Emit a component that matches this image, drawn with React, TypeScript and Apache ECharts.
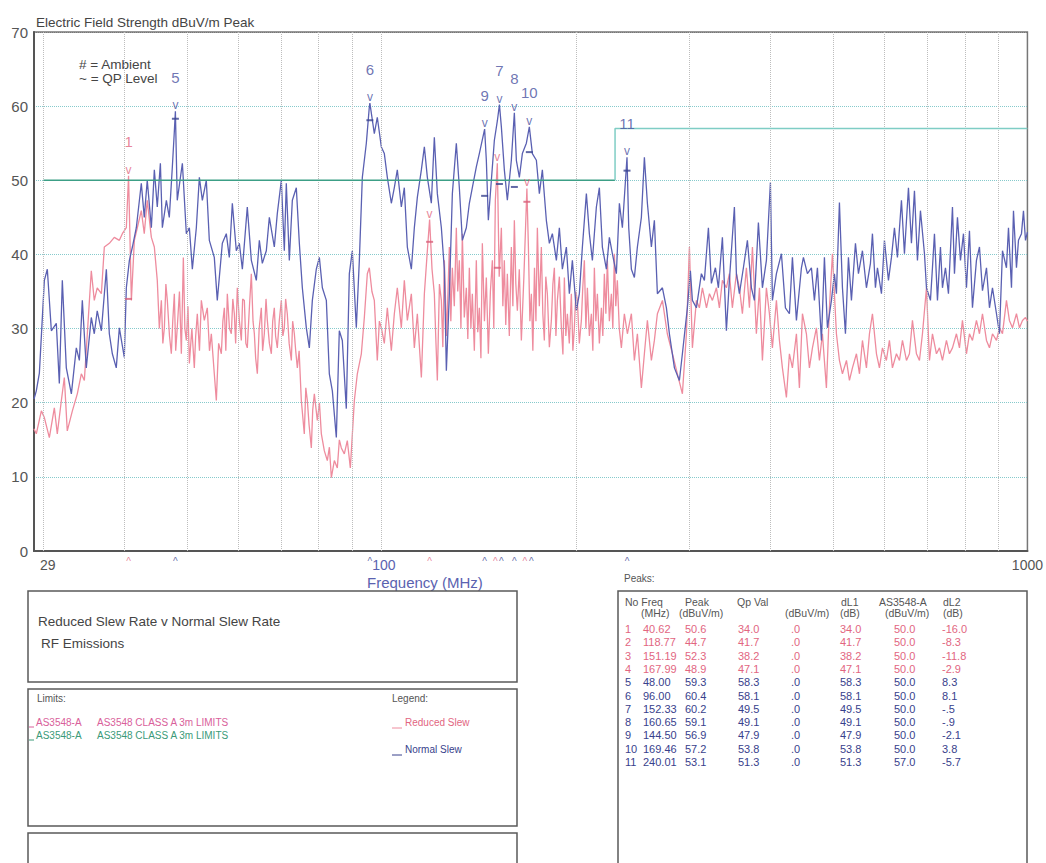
import React, { useEffect, useRef } from "react";
import * as echarts from "echarts";

const FONT = "Liberation Sans, Arial, sans-serif";
const PINK = "#ee8c9e";
const BLUE = "#5a60b2";
const PINK_TXT = "#e2667f";
const BLUE_TXT = "#38418c";

// Reduced slew rate trace [MHz, dBuV/m]
const reducedSlew: [number, number][] = [
  [29.0,16.5],[29.24,15.8],[29.77,18.9],[30.09,18],[30.63,15.3],[31.18,19.3],[31.51,15.8],[31.97,20.3],[32.31,23.4],[32.65,16.2],
  [33.25,18.9],[33.84,21.2],[34.33,23.9],[34.7,23],[35.07,29.3],[35.57,37.8],[35.95,33.8],[36.33,35.5],[36.87,34.7],[37.26,41],
  [37.93,41.5],[38.61,42.3],[39.31,41.9],[39.73,42.8],[40.3,43.6],[40.62,50.6],[41.03,33.8],[41.47,41.9],[41.91,43.6],[42.51,45.9],
  [42.96,42.8],[43.42,47.3],[44.06,42.3],[44.53,41],[45.0,36.5],[45.33,30],[45.66,33.8],[45.9,28],[46.15,30.1],[46.4,36],
  [46.64,33.8],[47.0,29],[47.31,26.6],[47.55,31],[47.82,34.7],[48.05,27],[48.32,30.1],[48.7,35],[49.03,26.6],[49.38,39.6],
  [49.65,30],[49.91,28.4],[50.2,33],[50.45,25.3],[50.9,30],[51.35,24.7],[51.6,29],[51.9,32],[52.3,27],[52.65,33.8],
  [53.21,31.1],[53.78,32.8],[54.2,27],[54.56,29.3],[55.14,23.9],[55.54,20.3],[56.0,28],[56.54,26.6],[56.85,31],[57.15,32.8],
  [57.45,27],[57.76,34.7],[58.2,30],[58.59,29.3],[58.9,34],[59.22,32],[59.5,28],[59.85,35.5],[60.3,31],[60.72,28.4],
  [61.0,34],[61.37,33.8],[61.7,28],[62.02,27.4],[62.5,33],[62.92,37.4],[63.3,31],[63.6,29.3],[63.9,26],[64.28,23.9],
  [64.7,30],[65.2,32.8],[65.5,27],[65.9,29.3],[66.3,34],[66.61,31.1],[67.1,28],[67.57,26.6],[67.9,31],[68.29,32.8],
  [68.6,29],[69.02,27.4],[69.5,31],[70.02,33.8],[70.4,29],[70.77,30.1],[71.1,34],[71.52,32],[72.0,28],[72.56,25.7],
  [72.9,31],[73.34,29.3],[73.7,27],[74.13,24.7],[74.6,27],[75.19,20.3],[75.99,15.8],[76.4,22],[76.82,20.3],[77.3,17],
  [77.92,13.9],[78.3,19],[78.76,21.2],[79.6,17.6],[80.2,20],[80.75,15.8],[81.62,13.5],[82.49,12.2],[83.1,14],[83.68,9.9],
  [84.58,12.2],[85.48,11.2],[86.1,15],[86.71,13.9],[87.64,13.1],[88.58,14.9],[89.54,11.2],[90.83,20.3],[91.8,23.9],[93.12,26.6],
  [94.12,31.5],[95.13,37.4],[95.81,38.2],[96.7,35],[97.53,33.8],[98.57,25.7],[99.3,31],[100,30.1],[101.07,28],[102.16,32.8],
  [103.63,27],[104.74,32],[105.86,35.5],[107.39,30.1],[108.54,36.5],[109.71,31.1],[111.29,34.7],[112.48,27.4],[113.69,32],[115.33,23.4],
  [116.57,34.7],[117.82,40.5],[118.77,44.7],[119.8,38],[120.79,34.7],[121.5,28],[122.09,23],[123.0,36],[123.85,33.8],[124.5,27.5],
  [125.18,39.2],[126.2,29],[127.43,41],[128.1,31],[128.8,38.2],[129.7,33],[130.64,43.6],[131.3,35],[132.05,39.2],[132.8,30],
  [133.47,42.8],[134.4,31.5],[135.38,35.5],[136.1,28.6],[136.84,38.2],[137.6,30],[138.31,34.7],[139.3,27],[140.29,39.2],[141.0,29.5],
  [141.8,32.8],[142.6,26],[143.33,41.5],[144.4,31],[145.38,36.9],[146.43,26.6],[147.5,35],[148.54,39.2],[149.3,30],[150.13,47.3],
  [151.19,52.3],[152.2,37],[153.38,43.6],[154.2,33],[155.02,39.2],[155.8,30.5],[156.69,37.4],[157.8,29],[158.94,41],[159.8,33],
  [160.65,44.6],[161.5,36],[162.38,32.4],[163.5,38],[164.71,28.4],[166.2,37],[167.99,48.9],[168.9,41],[169.8,31],[170.69,34.7],
  [171.6,27],[172.6,38.2],[173.5,31],[174.38,43.6],[175.6,33],[176.88,41],[177.8,32],[178.77,28.4],[179.7,37],[180.7,34.7],
  [182.0,27.5],[183.3,31.1],[184.3,36],[185.27,38.2],[186.3,29],[187.27,33.8],[188.6,37],[189.95,30.1],[191.0,26.5],[192.0,36.9],
  [193.0,29],[194.06,32],[195.4,28],[196.84,34.7],[197.9,27],[198.96,30.1],[200.0,35],[201.1,33.8],[202.5,28],[203.99,31.1],
  [205.0,35.5],[206.18,39.2],[207.3,30],[208.4,35.5],[209.9,29],[211.39,32],[212.5,27],[213.66,38.2],[214.8,31],[215.97,34.7],
  [217.5,28],[219.06,32.8],[220.2,29],[221.4,37.4],[222.6,32],[223.8,39.2],[225.4,31],[227.01,34.7],[228.2,30],[229.45,40.1],
  [230.6,33],[231.9,36.5],[233.5,30],[235.25,27.4],[237.77,32],[240.34,29.3],[243.79,32],[246.41,25.7],[249.06,29.3],[252.63,22],
  [255.35,26.6],[258.1,31.1],[261.8,25.7],[264.61,28.4],[267.46,32],[272.3,33.8],[277.1,29.3],[282.2,26.6],[287.2,23.9],[292.4,21.2],
  [296.6,29.3],[299.8,41],[303,27.4],[307.35,33.8],[310.65,32.8],[314,35.5],[318.6,32.8],[322,34.7],[325.4,33.8],[330.1,35.5],
  [333.6,32.8],[337.2,36.5],[342.04,35.5],[345.71,37.4],[349.4,32.8],[354.44,37.4],[358.26,35.5],[362.1,32],[367.3,38.2],[371.3,32.8],
  [375.3,41],[380.6,29.3],[384.8,35.5],[388.88,25.7],[394.46,35.5],[398.7,32],[402.99,27.4],[408.79,33.8],[413.2,28.4],[417.6,24.7],
  [423.6,20.7],[428.16,26.6],[432.77,24.7],[438.99,29.3],[443.7,22],[448.5,32],[454.9,29.3],[459.8,24.7],[464.8,27.4],[471.4,30.1],
  [476.5,25.7],[481.6,29.3],[488.5,22],[493.8,32.8],[499.1,40.1],[506.26,29.3],[511.7,25.7],[517.23,23.9],[524.7,25.7],[530.3,23],
  [536,24.7],[543.7,26.6],[549.6,23.9],[555.44,28.4],[563.41,24.7],[569.5,29.3],[575.6,32],[583.9,26.6],[590.1,24.7],[596.5,27.4],
  [604.9,25.7],[611.5,28.4],[618.1,24.7],[627,26.6],[633.8,25.7],[640.6,28.4],[649.8,25.7],[656.7,26.6],[663.8,31.1],[673.3,26.6],
  [680.6,25.7],[687.9,29.3],[697.8,35.5],[705.3,25.7],[712.87,29.3],[723.1,26.6],[730.9,27.4],[738.74,25.7],[749.3,28.4],[757.4,26.6],
  [765.56,27.4],[776.5,29.3],[784.9,27.4],[793.3,31.1],[804.71,26.6],[813.35,29.3],[822.1,28.4],[833.85,31.1],[842.89,29.3],[851.96,32],
  [864.22,28.4],[873.49,27.4],[882.88,29.3],[895.56,28.4],[905.16,30.1],[914.93,29.3],[928,33.8],[937.8,31.1],[948.1,30.1],[961.7,32],
  [972.1,30.1],[982.5,31.1],[993.1,31.5],[1000,31]
];

// Normal slew rate trace [MHz, dBuV/m]
const normalSlew: [number, number][] = [
  [29.0,20.5],[29.24,21.6],[29.56,24],[30.09,36.5],[30.41,38],[30.85,29.7],[31.4,30.7],[31.74,22.6],[32.08,36.5],[32.54,24.7],
  [33.13,21.2],[33.72,27.4],[34.09,25.7],[34.45,33.8],[34.94,24.7],[35.57,31.5],[35.95,29.3],[36.33,32.4],[36.87,29.7],[37.53,38],
  [37.93,29.3],[38.34,26.6],[38.88,24.7],[39.31,30.1],[40.01,26.1],[40.3,35.5],[40.74,39.2],[41.18,41],[41.76,43.6],[42.51,49.6],
  [42.96,45],[43.42,50],[44.06,43.6],[44.53,51.4],[45.0,46.4],[45.5,52.3],[45.82,43.6],[46.48,47.3],[46.97,45],[47.48,51.8],
  [47.8,56.3],[48.0,59.3],[48.32,47.3],[49.21,52.3],[49.91,42.8],[50.45,43.6],[50.99,38],[51.72,43.6],[52.28,50.4],[52.84,47.3],
  [53.59,50],[54.17,41.9],[55.14,39.6],[55.73,33.8],[56.74,41.5],[57.55,42.8],[58.17,39.6],[58.8,46.9],[59.64,40.5],[60.29,41.5],
  [60.94,38],[62.02,46.4],[62.92,39.2],[64.05,36.5],[64.74,41.9],[65.43,38.8],[66.37,40.5],[67.09,45],[68.29,41],[69.02,45.5],
  [70.02,50],[70.77,40.5],[71.27,49.6],[72.04,39.2],[72.82,47.3],[73.86,49],[74.66,41.5],[75.46,35.5],[76.54,30.1],[77.37,27.4],
  [78.2,33.8],[79.31,38],[80.18,39.6],[81.04,35.5],[82.2,33.8],[83.08,23.9],[83.98,21.6],[85.18,15.3],[86.09,29.7],[87.02,28.4],
  [88.26,19.2],[89.22,37.4],[90.18,40.5],[91.47,30.1],[92.46,39.2],[93.45,50.4],[94.79,55],[95.81,59.9],[96.0,60.4],[97.53,56.3],
  [98.57,58.5],[100,54.5],[101.07,53.6],[102.16,50.4],[103.63,46.9],[104.74,49],[105.86,51.4],[107.39,46.4],[108.54,49],[109.71,41],
  [111.29,38],[112.48,43.6],[113.69,47.7],[115.33,51.4],[116.57,54.5],[117.82,50.4],[119.51,46.9],[120.79,55.8],[122.09,48.2],[123.85,43.6],
  [125.18,38],[126.08,24.3],[127.43,34.7],[128.8,48.2],[130.64,55],[132.05,49],[133.47,41.9],[135.38,43.6],[136.84,46.9],[138.31,49],
  [140.29,51.8],[141.8,53.6],[144.5,56.9],[145.38,52.7],[146.43,44.6],[148.01,50],[149.6,55.4],[151.2,58],[152.33,60.2],[153.38,57.2],
  [155.02,51.4],[156.69,47.3],[158.94,52.7],[160.65,59.1],[161.8,52.7],[163.54,50.4],[165.3,53.6],[167.67,55],[169.46,57.2],[171.3,53.6],
  [173.76,52.7],[175.62,48.2],[177.51,51.4],[180.05,44.6],[182.0,41.5],[183.96,42.8],[186.6,39.2],[188.6,43.6],[190.63,38],[193.37,41],
  [195.44,34.7],[197.55,39.2],[200.38,32.4],[202.54,34.7],[204.72,41],[207.66,48.2],[209.89,42.8],[212.15,39.2],[215.19,46.4],[217.5,49],
  [219.84,41],[223.0,38],[225.39,42.3],[227.82,40.1],[231.09,37.4],[233.58,46.9],[236.09,43.6],[240.01,53.1],[241.5,43.6],[243.79,38],
  [246.41,36.9],[249.06,41],[252.63,45],[255.35,53.1],[258.1,46.9],[261.8,41],[264.61,44.6],[267.46,34.7],[272.3,35.5],[276.2,32.8],
  [279.15,29.3],[284.2,24.7],[289.27,23],[292.39,26.6],[297.64,32.8],[300.85,37.8],[303,33.8],[307.35,32.8],[312.88,37.4],[316.24,36.5],
  [320.79,43.6],[324.24,36.1],[328.9,38.2],[332.43,35.5],[337.2,42.3],[342.04,29.7],[345.71,36.5],[351.93,46.4],[354.44,37.4],[358.26,34.7],
  [363.41,38.2],[368.62,41.9],[373.93,35.5],[377.94,33.8],[383.36,44.3],[388.88,35.5],[394.46,39.2],[400.13,49.7],[402.99,33.8],[408.79,37.4],
  [416.13,40.1],[422.1,32.8],[428.16,32],[432.77,39.6],[438.99,31.1],[446.88,38.2],[450.08,39.6],[456.54,37.4],[463.1,38.2],[468.07,33.8],
  [473.1,38.2],[479.91,28.4],[485.06,39.6],[490.27,30.1],[497.33,33.8],[502.66,37.4],[506.26,34.7],[511.7,47],[517.23,35.5],[522.8,29.3],
  [528.4,39.6],[534.08,33.8],[541.78,41.5],[547.6,37.4],[555.44,40.5],[563.41,35.5],[571.51,38.8],[575.6,42.8],[581.78,35.5],[585.95,38.2],
  [594.36,34.7],[600.75,41.9],[609.39,36.5],[615.93,39.6],[622.55,43.6],[629.23,39.6],[638.29,47.3],[645.13,40.1],[654.42,49],[661.45,41.5],
  [668.57,48.6],[675.74,39.2],[683,45.9],[692.85,40.1],[697.8,35.5],[707.8,33.8],[712.87,38.2],[717.97,42.8],[725.68,33.8],[733.48,41],
  [738.74,35.5],[746.66,38.2],[754.69,34.7],[765.56,46.4],[771.03,37.4],[779.3,45],[787.7,39.2],[796.16,42.8],[804.71,35.5],[813.35,43.2],
  [822.1,32.8],[833.85,39.2],[842.89,41],[851.96,35.1],[864.22,38.2],[873.49,32.8],[882.88,35.5],[895.56,32],[905.16,29.3],[914.93,40.5],
  [928,38.2],[934.7,43.6],[944.75,35.5],[951.5,45.9],[961.7,38.2],[968.6,41.9],[979,42.8],[986,45.9],[993.1,41.9],[1000,43]
];

// Limit lines (AS3548 class A 3m)
const limitLow: [number, number][] = [[30, 50], [230, 50]];
const limitHigh: [number, number][] = [[230, 50], [230, 57], [1000, 57]];

const gridFreqs = [30, 40, 50, 60, 70, 80, 90, 100, 200, 300, 400, 500, 600, 700, 800, 900];
const xLabelValues = [29, 100, 1000];

// Peaks table
const peakNo = [1, 2, 3, 4, 5, 6, 7, 8, 9, 10, 11];
const peakFreq = [40.62, 118.77, 151.19, 167.99, 48.0, 96.0, 152.33, 160.65, 144.5, 169.46, 240.01];
const peakLevel = [50.6, 44.7, 52.3, 48.9, 59.3, 60.4, 60.2, 59.1, 56.9, 57.2, 53.1];
const qpLevel = [34.0, 41.7, 38.2, 47.1, 58.3, 58.1, 49.5, 49.1, 47.9, 53.8, 51.3];
const corr = [0, 0, 0, 0, 0, 0, 0, 0, 0, 0, 0];
const dL1 = [34.0, 41.7, 38.2, 47.1, 58.3, 58.1, 49.5, 49.1, 47.9, 53.8, 51.3];
const limitAtPeak = [50.0, 50.0, 50.0, 50.0, 50.0, 50.0, 50.0, 50.0, 50.0, 50.0, 57.0];
const dL2 = [-16.0, -8.3, -11.8, -2.9, 8.3, 8.1, -0.5, -0.9, -2.1, 3.8, -5.7];
const peakTrace = ["r", "r", "r", "r", "n", "n", "n", "n", "n", "n", "n"];
const labelledPeaks = [1, 5, 6, 7, 8, 9, 10, 11];

const f1 = (v: number) => v.toFixed(1).replace(/^(-?)0\./, "$1.");

function txt(x: number, y: number, text: string, size: number, fill: string, align = "left") {
  return {
    type: "text",
    x,
    y,
    silent: true,
    style: { text, fill, fontSize: size, fontFamily: FONT, align, verticalAlign: "middle" },
  };
}
function box(x: number, y: number, w: number, h: number) {
  return {
    type: "rect",
    silent: true,
    shape: { x, y, width: w, height: h },
    style: { fill: "none", stroke: "#5a5a5a", lineWidth: 1.5 },
  };
}
function hline(x1: number, x2: number, y: number, stroke: string) {
  return { type: "line", silent: true, shape: { x1, y1: y, x2, y2: y }, style: { stroke, lineWidth: 1 } };
}

function buildGraphic() {
  const g: any[] = [];
  g.push(txt(79, 64, "# = Ambient", 13.5, "#454545"));
  g.push(txt(79, 78, "~ = QP Level", 13.5, "#454545"));
  g.push(txt(367, 582, "Frequency (MHz)", 15, "#5a62b0"));
  // description box
  g.push(box(28, 591, 489, 91));
  g.push(txt(38, 621, "Reduced Slew Rate v Normal Slew Rate", 13.5, "#444"));
  g.push(txt(41, 643, "RF Emissions", 13.5, "#444"));
  // limits / legend box
  g.push(box(28, 689, 489, 137));
  g.push(txt(37, 698, "Limits:", 10, "#555"));
  g.push(hline(29, 34, 727, "#d9609a"));
  g.push(txt(36, 722, "AS3548-A", 10, "#d9609a"));
  g.push(txt(97, 722, "AS3548 CLASS A 3m LIMITS", 10, "#d9609a"));
  g.push(hline(29, 34, 740, "#3a9a78"));
  g.push(txt(36, 735, "AS3548-A", 10, "#3a9a78"));
  g.push(txt(97, 735, "AS3548 CLASS A 3m LIMITS", 10, "#3a9a78"));
  g.push(txt(392, 698, "Legend:", 10, "#555"));
  g.push(hline(392, 402, 728, PINK));
  g.push(txt(405, 722, "Reduced Slew", 10, PINK_TXT));
  g.push(hline(392, 402, 755, BLUE_TXT));
  g.push(txt(405, 749, "Normal Slew", 10, BLUE_TXT));
  g.push(box(28, 833, 489, 45));
  // peaks table
  g.push(txt(624, 578, "Peaks:", 10, "#555"));
  g.push(box(618, 591, 409, 290));
  const hc = "#555";
  g.push(txt(625, 602, "No Freq", 10.5, hc));
  g.push(txt(685, 602, "Peak", 10.5, hc));
  g.push(txt(737, 602, "Qp Val", 10.5, hc));
  g.push(txt(841, 602, "dL1", 10.5, hc));
  g.push(txt(879, 602, "AS3548-A", 10.5, hc));
  g.push(txt(943, 602, "dL2", 10.5, hc));
  g.push(txt(641, 613, "(MHz)", 10.5, hc));
  g.push(txt(679, 613, "(dBuV/m)", 10.5, hc));
  g.push(txt(785, 613, "(dBuV/m)", 10.5, hc));
  g.push(txt(840, 613, "(dB)", 10.5, hc));
  g.push(txt(885, 613, "(dBuV/m)", 10.5, hc));
  g.push(txt(943, 613, "(dB)", 10.5, hc));
  peakNo.forEach((n, i) => {
    const y = 629 + i * 13.3;
    const c = peakTrace[i] === "r" ? PINK_TXT : BLUE_TXT;
    g.push(txt(625, y, String(n), 11, c));
    g.push(txt(643, y, peakFreq[i].toFixed(2), 11, c));
    g.push(txt(685, y, f1(peakLevel[i]), 11, c));
    g.push(txt(738, y, f1(qpLevel[i]), 11, c));
    g.push(txt(791, y, f1(corr[i]), 11, c));
    g.push(txt(840, y, f1(dL1[i]), 11, c));
    g.push(txt(894, y, f1(limitAtPeak[i]), 11, c));
    g.push(txt(942, y, f1(dL2[i]), 11, c));
  });
  return g;
}

function buildOption() {
  const idx = (t: string) => peakNo.map((_, i) => i).filter((i) => peakTrace[i] === t);
  const rIdx = idx("r");
  const nIdx = idx("n");
  const vSeries = (ids: number[], color: string) => ({
    type: "scatter",
    z: 8,
    symbolSize: 1,
    itemStyle: { color: "rgba(0,0,0,0)" },
    data: ids.map((i) => [peakFreq[i], peakLevel[i]]),
    label: { show: true, position: "inside", offset: [0, -6], formatter: "v", fontSize: 12, color, fontFamily: FONT },
    silent: true,
  });
  const numSeries = (ids: number[], color: string) => ({
    type: "scatter",
    z: 8,
    symbolSize: 1,
    itemStyle: { color: "rgba(0,0,0,0)" },
    data: ids.filter((i) => labelledPeaks.includes(peakNo[i])).map((i) => [peakFreq[i], peakLevel[i], peakNo[i]]),
    label: {
      show: true,
      position: "inside",
      offset: [0, -34],
      formatter: (p: any) => String(p.value[2]),
      fontSize: 15,
      color,
      fontFamily: FONT,
    },
    silent: true,
  });
  const qpSeries = (ids: number[], color: string) => ({
    type: "scatter",
    z: 8,
    symbol: "rect",
    symbolSize: [7, 2],
    itemStyle: { color },
    data: ids.map((i) => [peakFreq[i], qpLevel[i]]),
    silent: true,
  });
  // carets under the axis; a caret is nudged sideways only when a caret of the other trace sits next to it
  const caretSeries = (ids: number[], others: number[], color: string, dx: number) => ({
    type: "scatter",
    z: 8,
    clip: false,
    symbolSize: 1,
    itemStyle: { color: "rgba(0,0,0,0)" },
    data: ids.map((i) => {
      const near = others.some((j) => Math.abs(Math.log10(peakFreq[j] / peakFreq[i])) < 0.004);
      return { value: [peakFreq[i], 0], label: { offset: [near ? dx : 0, 10] } };
    }),
    label: { show: true, position: "inside", offset: [0, 10], formatter: "^", fontSize: 10, color, fontFamily: FONT },
    silent: true,
  });

  const splitColors = ["#86cacc", "#86cacc", "#86cacc", "#86cacc", "#86cacc", "#86cacc", "#86cacc", "#777777"];

  return {
    animation: false,
    backgroundColor: "#ffffff",
    textStyle: { fontFamily: FONT },
    title: {
      text: "Electric Field Strength dBuV/m Peak",
      left: 31,
      top: 10,
      textStyle: { fontSize: 13.5, fontWeight: "normal", color: "#444", fontFamily: FONT },
    },
    grid: { left: 34, top: 32, width: 994, height: 519, show: true, borderColor: "#777", borderWidth: 1.5 },
    xAxis: {
      type: "log",
      logBase: 10,
      min: 29,
      max: 1000,
      axisLine: { show: true, lineStyle: { color: "#555", width: 2 } },
      axisTick: { show: false },
      splitLine: { show: false },
      minorSplitLine: { show: false },
      axisLabel: {
        customValues: xLabelValues,
        alignMinLabel: "left",
        margin: 7,
        fontSize: 14,
        color: "#555",
        fontFamily: FONT,
        formatter: (v: number) => {
          const hit = xLabelValues.find((t) => Math.abs(t - v) / t < 0.01);
          if (hit === undefined) return "";
          if (hit === 100) return "{b|100}";
          if (hit === 29) return "{a|29}";
          return String(hit);
        },
        rich: {
          a: { color: "#555", fontSize: 14, fontFamily: FONT, padding: [0, 0, 0, 6] },
          b: { color: "#5a62b0", fontSize: 14, fontFamily: FONT, padding: [0, 0, 0, 5] },
        },
      },
    },
    yAxis: {
      type: "value",
      min: 0,
      max: 70,
      interval: 10,
      axisLine: { show: true, lineStyle: { color: "#555", width: 2 } },
      axisTick: { show: false },
      axisLabel: { fontSize: 15, color: "#555", margin: 6, fontFamily: FONT },
      splitLine: { show: true, lineStyle: { type: "dotted", color: splitColors, width: 1 } },
    },
    series: [
      {
        type: "line",
        z: 1,
        silent: true,
        symbol: "none",
        data: [[29, 0], [1000, 0]],
        lineStyle: { width: 0, opacity: 0 },
        markLine: {
          silent: true,
          symbol: ["none", "none"],
          label: { show: false },
          lineStyle: { type: "dotted", color: "#bdbdbd", width: 1 },
          data: gridFreqs.map((f) => ({ xAxis: f })),
        },
      },
      {
        name: "Reduced Slew",
        type: "line",
        z: 3,
        symbol: "none",
        data: reducedSlew,
        lineStyle: { color: PINK, width: 1.3 },
        silent: true,
      },
      {
        name: "Normal Slew",
        type: "line",
        z: 4,
        symbol: "none",
        data: normalSlew,
        lineStyle: { color: BLUE, width: 1.3 },
        silent: true,
      },
      { type: "line", z: 5, symbol: "none", data: limitLow, lineStyle: { color: "#3c9f86", width: 1.5 }, silent: true },
      { type: "line", z: 5, symbol: "none", data: limitHigh, lineStyle: { color: "#7fcdc5", width: 1.5 }, silent: true },
      vSeries(rIdx, PINK_TXT),
      vSeries(nIdx, "#4a52a0"),
      numSeries(rIdx, PINK_TXT),
      numSeries(nIdx, "#4a52a0"),
      qpSeries(rIdx, "#d8607a"),
      qpSeries(nIdx, "#3a4390"),
      caretSeries(rIdx, nIdx, PINK_TXT, -2),
      caretSeries(nIdx, rIdx, "#3a4390", 2),
    ],
    graphic: buildGraphic(),
  };
}

export default function App() {
  const ref = useRef<HTMLDivElement>(null);
  useEffect(() => {
    if (!ref.current) return;
    const chart = echarts.init(ref.current, null, { renderer: "svg" });
    chart.setOption(buildOption() as any);
    return () => chart.dispose();
  }, []);
  return (
    <div
      ref={ref}
      style={{ position: "absolute", left: 0, top: 0, width: 1046, height: 863, background: "#fff" }}
    />
  );
}
